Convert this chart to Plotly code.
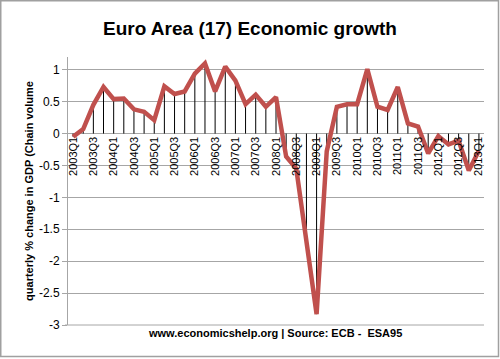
import plotly.graph_objects as go

quarters = [f"{y}Q{q}" for y in range(2003, 2013) for q in range(1, 5)] + ["2013Q1"]
growth = [-0.05, 0.07, 0.45, 0.73, 0.54, 0.55, 0.38, 0.34, 0.21, 0.74,
          0.62, 0.66, 0.94, 1.10, 0.66, 1.05, 0.83, 0.46, 0.61, 0.42,
          0.57, -0.36, -0.55, -1.70, -2.83, -0.28, 0.42, 0.46, 0.46, 1.01,
          0.42, 0.37, 0.73, 0.16, 0.11, -0.31, -0.04, -0.17, -0.11, -0.58,
          -0.27]
tick_labels = quarters[::2]

title_text = "Euro Area (17) Economic growth"
y_title = "quarterly % change in GDP (Chain volume"
source_text = "www.economicshelp.org | Source: ECB -  ESA95"

ymin, ymax = -3, 1.2

# drop lines from each point to zero
dx, dy = [], []
for q, v in zip(quarters, growth):
    dx += [q, q, None]
    dy += [0, v, None]

fig = go.Figure()
fig.add_trace(go.Scatter(x=dx, y=dy, mode="lines",
                         line=dict(color="black", width=1), hoverinfo="skip",
                         showlegend=False))
fig.add_trace(go.Scatter(x=quarters, y=growth, mode="lines",
                         line=dict(color="#C0504D", width=4.5),
                         showlegend=False))

W, H = 500, 359
ml, mr, mt, mb = 68, 16, 57, 34
pw, ph = W - ml - mr, H - mt - mb

fig.update_layout(
    width=W, height=H,
    margin=dict(l=ml, r=mr, t=mt, b=mb),
    paper_bgcolor="white", plot_bgcolor="white",
    font=dict(family="Liberation Sans, Arial, sans-serif", color="#000000"),
    xaxis=dict(type="category", categoryorder="array", categoryarray=quarters,
               range=[-0.5, len(quarters) - 0.5],
               anchor="free", position=(0 - ymin) / (ymax - ymin),
               tickmode="array", tickvals=tick_labels, ticktext=tick_labels,
               tickangle=-90, tickfont=dict(size=11, color="#000000"),
               showgrid=False, showline=False, zeroline=False, ticks=""),
    yaxis=dict(range=[ymin, ymax], tickmode="array",
               tickvals=[-3, -2.5, -2, -1.5, -1, -0.5, 0, 0.5, 1],
               ticktext=["-3", "-2.5", "-2", "-1.5", "-1", "-0.5", "0", "0.5", "1"],
               tickfont=dict(size=12, color="#000000"),
               showgrid=True, gridcolor="#A6A6A6", gridwidth=1,
               zeroline=True, zerolinecolor="#A6A6A6", zerolinewidth=1,
               showline=True, linecolor="#A6A6A6", linewidth=1,
               ticks="outside", ticklen=5, tickcolor="#A6A6A6",
               title=dict(text=y_title, font=dict(size=11, color="#000000",
                                                  family="Liberation Sans, Arial, sans-serif", weight="bold"),
                          standoff=3)),
    annotations=[
        dict(text=f"<b>{title_text}</b>", xref="paper", yref="paper",
             x=(250 - ml) / pw, y=1 + (mt - 28) / ph, xanchor="center", yanchor="middle",
             showarrow=False, font=dict(size=19, color="#000000")),
        dict(text=f"<b>{source_text}</b>", xref="paper", yref="paper",
             x=(275 - ml) / pw, y=-(333 - (H - mb)) / ph, xanchor="center", yanchor="middle",
             showarrow=False, font=dict(size=11, color="#000000")),
    ],
    shapes=[
        dict(type="line", xref="paper", yref="paper", x0=-3 / pw, x1=1, y0=0, y1=0,
             line=dict(color="#A6A6A6", width=1)),
        dict(type="rect", xref="paper", yref="paper",
             x0=(0.75 - ml) / pw, x1=(W - 1.5 - ml) / pw,
             y0=-(H - 2.5 - (H - mb)) / ph, y1=1 + (mt - 0.75) / ph,
             line=dict(color="#A0A0A0", width=1.5)),
    ],
)

fig.write_html("out.html", config={"displayModeBar": False},
               post_script="document.body.style.margin='0px';document.body.style.padding='0px';")
